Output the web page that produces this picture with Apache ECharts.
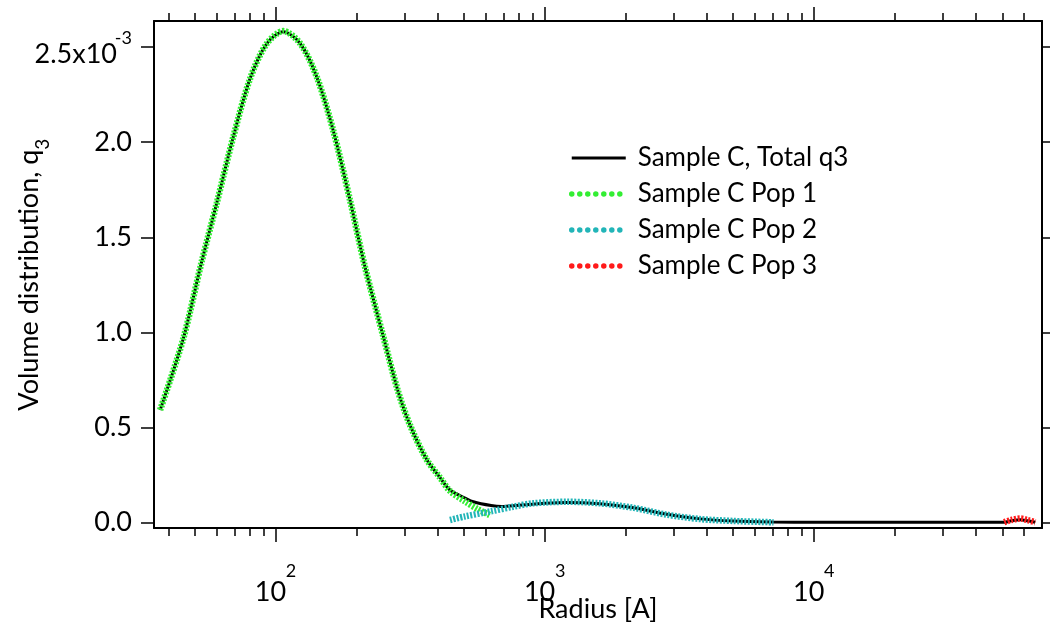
<!DOCTYPE html>
<html><head><meta charset="utf-8">
<script src="https://cdn.jsdelivr.net/npm/echarts@6/dist/echarts.min.js"></script>
<style>html,body{margin:0;padding:0;background:#fff}#c{width:1050px;height:626px}</style>
</head><body><div id="c"></div>
<script>
// Radius [A] and q3 (units of 1e-3)
const totalRadius = [37.1, 45.2, 52.9, 60.2, 69.4, 80.1, 92.3, 106.4, 122.8, 141.6, 163.3, 188.3, 214, 250.5, 284, 315, 363, 407, 443, 504, 541, 630, 690, 800, 1000, 1204, 1600, 2133, 2835, 3770, 5007, 7060, 10000, 20000, 40000, 50800, 54000, 58300, 62000, 66300];
const totalQ3     = [0.591, 0.965, 1.37, 1.679, 2.029, 2.335, 2.518, 2.582, 2.521, 2.345, 2.06, 1.696, 1.345, 0.977, 0.69, 0.51, 0.33, 0.235, 0.17, 0.128, 0.108, 0.088, 0.083, 0.09, 0.1, 0.104, 0.097, 0.076, 0.042, 0.018, 0.007, 0.002, 0.0, 0.0, 0.0, 0.0, 0.008, 0.014, 0.008, 0.0];
const pop1Radius  = [37.1, 45.2, 52.9, 60.2, 69.4, 80.1, 92.3, 106.4, 122.8, 141.6, 163.3, 188.3, 214, 250.5, 284, 315, 363, 407, 443, 504, 560, 630];
const pop1Q3      = [0.591, 0.965, 1.37, 1.679, 2.029, 2.335, 2.518, 2.585, 2.521, 2.345, 2.06, 1.696, 1.345, 0.977, 0.69, 0.51, 0.33, 0.235, 0.165, 0.11, 0.07, 0.035];
const pop2Radius  = [443, 500, 630, 760, 904, 1204, 1601, 2133, 2835, 3770, 5007, 7060];
const pop2Q3      = [0.012, 0.03, 0.058, 0.082, 0.1, 0.108, 0.1, 0.076, 0.04, 0.017, 0.007, 0.0];
const pop3Radius  = [50800, 54000, 58300, 62000, 66300];
const pop3Q3      = [0.0, 0.012, 0.02, 0.012, 0.0];

const seriesNames = ['Sample C, Total q3', 'Sample C Pop 1', 'Sample C Pop 2', 'Sample C Pop 3'];
const yTickValues = [0, 0.5, 1.0, 1.5, 2.0, 2.5];
const yPlainLabels = [0, 0.5, 1.0, 1.5, 2.0];
const yTopLabel = [2.5];
const yTopText = '2.5x10';
const yTopExponent = '-3';
const xMajorTicks = [100, 1000, 10000];
const xMinorTicks = [40, 50, 60, 70, 80, 90, 200, 300, 400, 500, 600, 700, 800, 900,
  2000, 3000, 4000, 5000, 6000, 7000, 8000, 9000, 20000, 30000, 40000, 50000, 60000];
const X_MIN = 35.2, X_MAX = 70230;
const Y_MIN = -0.03, Y_MAX = 2.638;

const FONT = 'Lato';
const zip = (xs, ys) => xs.map((x, i) => [x, ys[i]]);
const chart = echarts.init(document.getElementById('c'), null, {renderer: 'canvas'});

const lineCol = '#000';
const noLine = {show: false, onZero: false};
const noTick = {show: false};
const xBase = {type: 'log', logBase: 10, min: X_MIN, max: X_MAX, gridIndex: 0,
  splitLine: {show: false}, minorTick: {show: false}, minorSplitLine: {show: false}};
const yBase = {type: 'value', min: Y_MIN, max: Y_MAX, gridIndex: 0,
  splitLine: {show: false}, minorTick: {show: false}};
const axLine = {show: true, onZero: false, lineStyle: {color: lineCol, width: 2}};
const tick = (len, vals) => ({show: true, inside: false, length: len, lineStyle: {color: lineCol, width: 1.5}, customValues: vals});
const dotStyle = {type: [0.01, 8], cap: 'round', width: 5.5};

chart.setOption({
  animation: false,
  backgroundColor: '#fff',
  grid: {left: 154, right: 8, top: 21, bottom: 98, containLabel: false, outerBoundsMode: 'none'},
  legend: {
    orient: 'vertical', left: 564, top: 140, itemWidth: 54, itemHeight: 14, itemGap: 10,
    itemStyle: {opacity: 0},
    textStyle: {fontFamily: FONT, fontSize: 26, lineHeight: 26, color: '#000', padding: [0, 0, 0, 7]},
    data: [
      {name: seriesNames[0], lineStyle: {width: 3, type: 'solid'}},
      {name: seriesNames[1], lineStyle: dotStyle},
      {name: seriesNames[2], lineStyle: dotStyle},
      {name: seriesNames[3], lineStyle: dotStyle}
    ]
  },
  xAxis: [
    Object.assign({}, xBase, {position: 'bottom', axisLine: axLine, axisTick: tick(14, xMajorTicks),
      axisLabel: {show: true, customValues: xMajorTicks, margin: 51, padding: [0, 11, 0, 0],
        fontFamily: FONT, fontSize: 27, color: '#000', formatter: () => '10'},
      name: 'Radius [A]', nameLocation: 'middle', nameGap: 68, nameMoveOverlap: false,
      nameTextStyle: {fontFamily: FONT, fontSize: 27, color: '#000'}}),
    Object.assign({}, xBase, {position: 'bottom', axisLine: noLine, axisTick: tick(8, xMinorTicks), axisLabel: {show: false}}),
    Object.assign({}, xBase, {position: 'top', axisLine: axLine, axisTick: tick(14, xMajorTicks), axisLabel: {show: false}}),
    Object.assign({}, xBase, {position: 'top', axisLine: noLine, axisTick: tick(8, xMinorTicks), axisLabel: {show: false}}),
    Object.assign({}, xBase, {position: 'bottom', axisLine: noLine, axisTick: noTick,
      axisLabel: {show: true, customValues: xMajorTicks, margin: 34, padding: [0, 0, 0, 30],
        fontFamily: FONT, fontSize: 18, color: '#000', formatter: v => String(Math.round(Math.log10(v)))}})
  ],
  yAxis: [
    Object.assign({}, yBase, {position: 'left', axisLine: axLine, axisTick: tick(13, yTickValues),
      axisLabel: {show: true, customValues: yPlainLabels, margin: 22, fontFamily: FONT, fontSize: 27, color: '#000',
        formatter: v => v.toFixed(1)},
      name: '{n|Volume distribution, q}{sub|3}{s| }', nameLocation: 'middle', nameGap: 102, nameRotate: 90,
      nameMoveOverlap: false,
      nameTextStyle: {rich: {
        n: {fontFamily: FONT, fontSize: 27, color: '#000', verticalAlign: 'top', lineHeight: 27},
        sub: {fontFamily: FONT, fontSize: 19, color: '#000', verticalAlign: 'bottom', lineHeight: 19},
        s: {fontFamily: FONT, fontSize: 1, color: '#000', verticalAlign: 'top', lineHeight: 36}
      }}}),
    Object.assign({}, yBase, {position: 'right', axisLine: axLine, axisTick: tick(13, yTickValues), axisLabel: {show: false}}),
    Object.assign({}, yBase, {position: 'left', axisLine: noLine, axisTick: noTick,
      axisLabel: {show: true, customValues: yTopLabel, margin: 37, verticalAlign: 'top', lineHeight: 14,
        fontFamily: FONT, fontSize: 27, color: '#000', formatter: () => yTopText}}),
    Object.assign({}, yBase, {position: 'left', axisLine: noLine, axisTick: noTick,
      axisLabel: {show: true, customValues: yTopLabel, margin: 22, verticalAlign: 'bottom', lineHeight: 19,
        fontFamily: FONT, fontSize: 18, color: '#000', formatter: () => yTopExponent}})
  ],
  series: [
    {name: seriesNames[0], type: 'line', xAxisIndex: 0, yAxisIndex: 0, data: zip(totalRadius, totalQ3),
      symbol: 'none', smooth: 0.3, lineStyle: {color: '#000', width: 3}, itemStyle: {color: '#000'}, z: 2},
    {name: seriesNames[1], type: 'line', xAxisIndex: 0, yAxisIndex: 0, data: zip(pop1Radius, pop1Q3),
      symbol: 'none', smooth: 0.3, lineStyle: {color: '#33ee33', width: 6.5, type: [2, 1.5]}, itemStyle: {color: '#33ee33'}, z: 3},
    {name: seriesNames[2], type: 'line', xAxisIndex: 0, yAxisIndex: 0, data: zip(pop2Radius, pop2Q3),
      symbol: 'none', smooth: 0.3, lineStyle: {color: '#22b5b8', width: 6.5, type: [2, 1.5]}, itemStyle: {color: '#22b5b8'}, z: 3},
    {name: seriesNames[3], type: 'line', xAxisIndex: 0, yAxisIndex: 0, data: zip(pop3Radius, pop3Q3),
      symbol: 'none', smooth: 0.3, lineStyle: {color: '#ff1a1a', width: 6.5, type: [2, 1.5]}, itemStyle: {color: '#ff1a1a'}, z: 3}
  ]
});
</script></body></html>
